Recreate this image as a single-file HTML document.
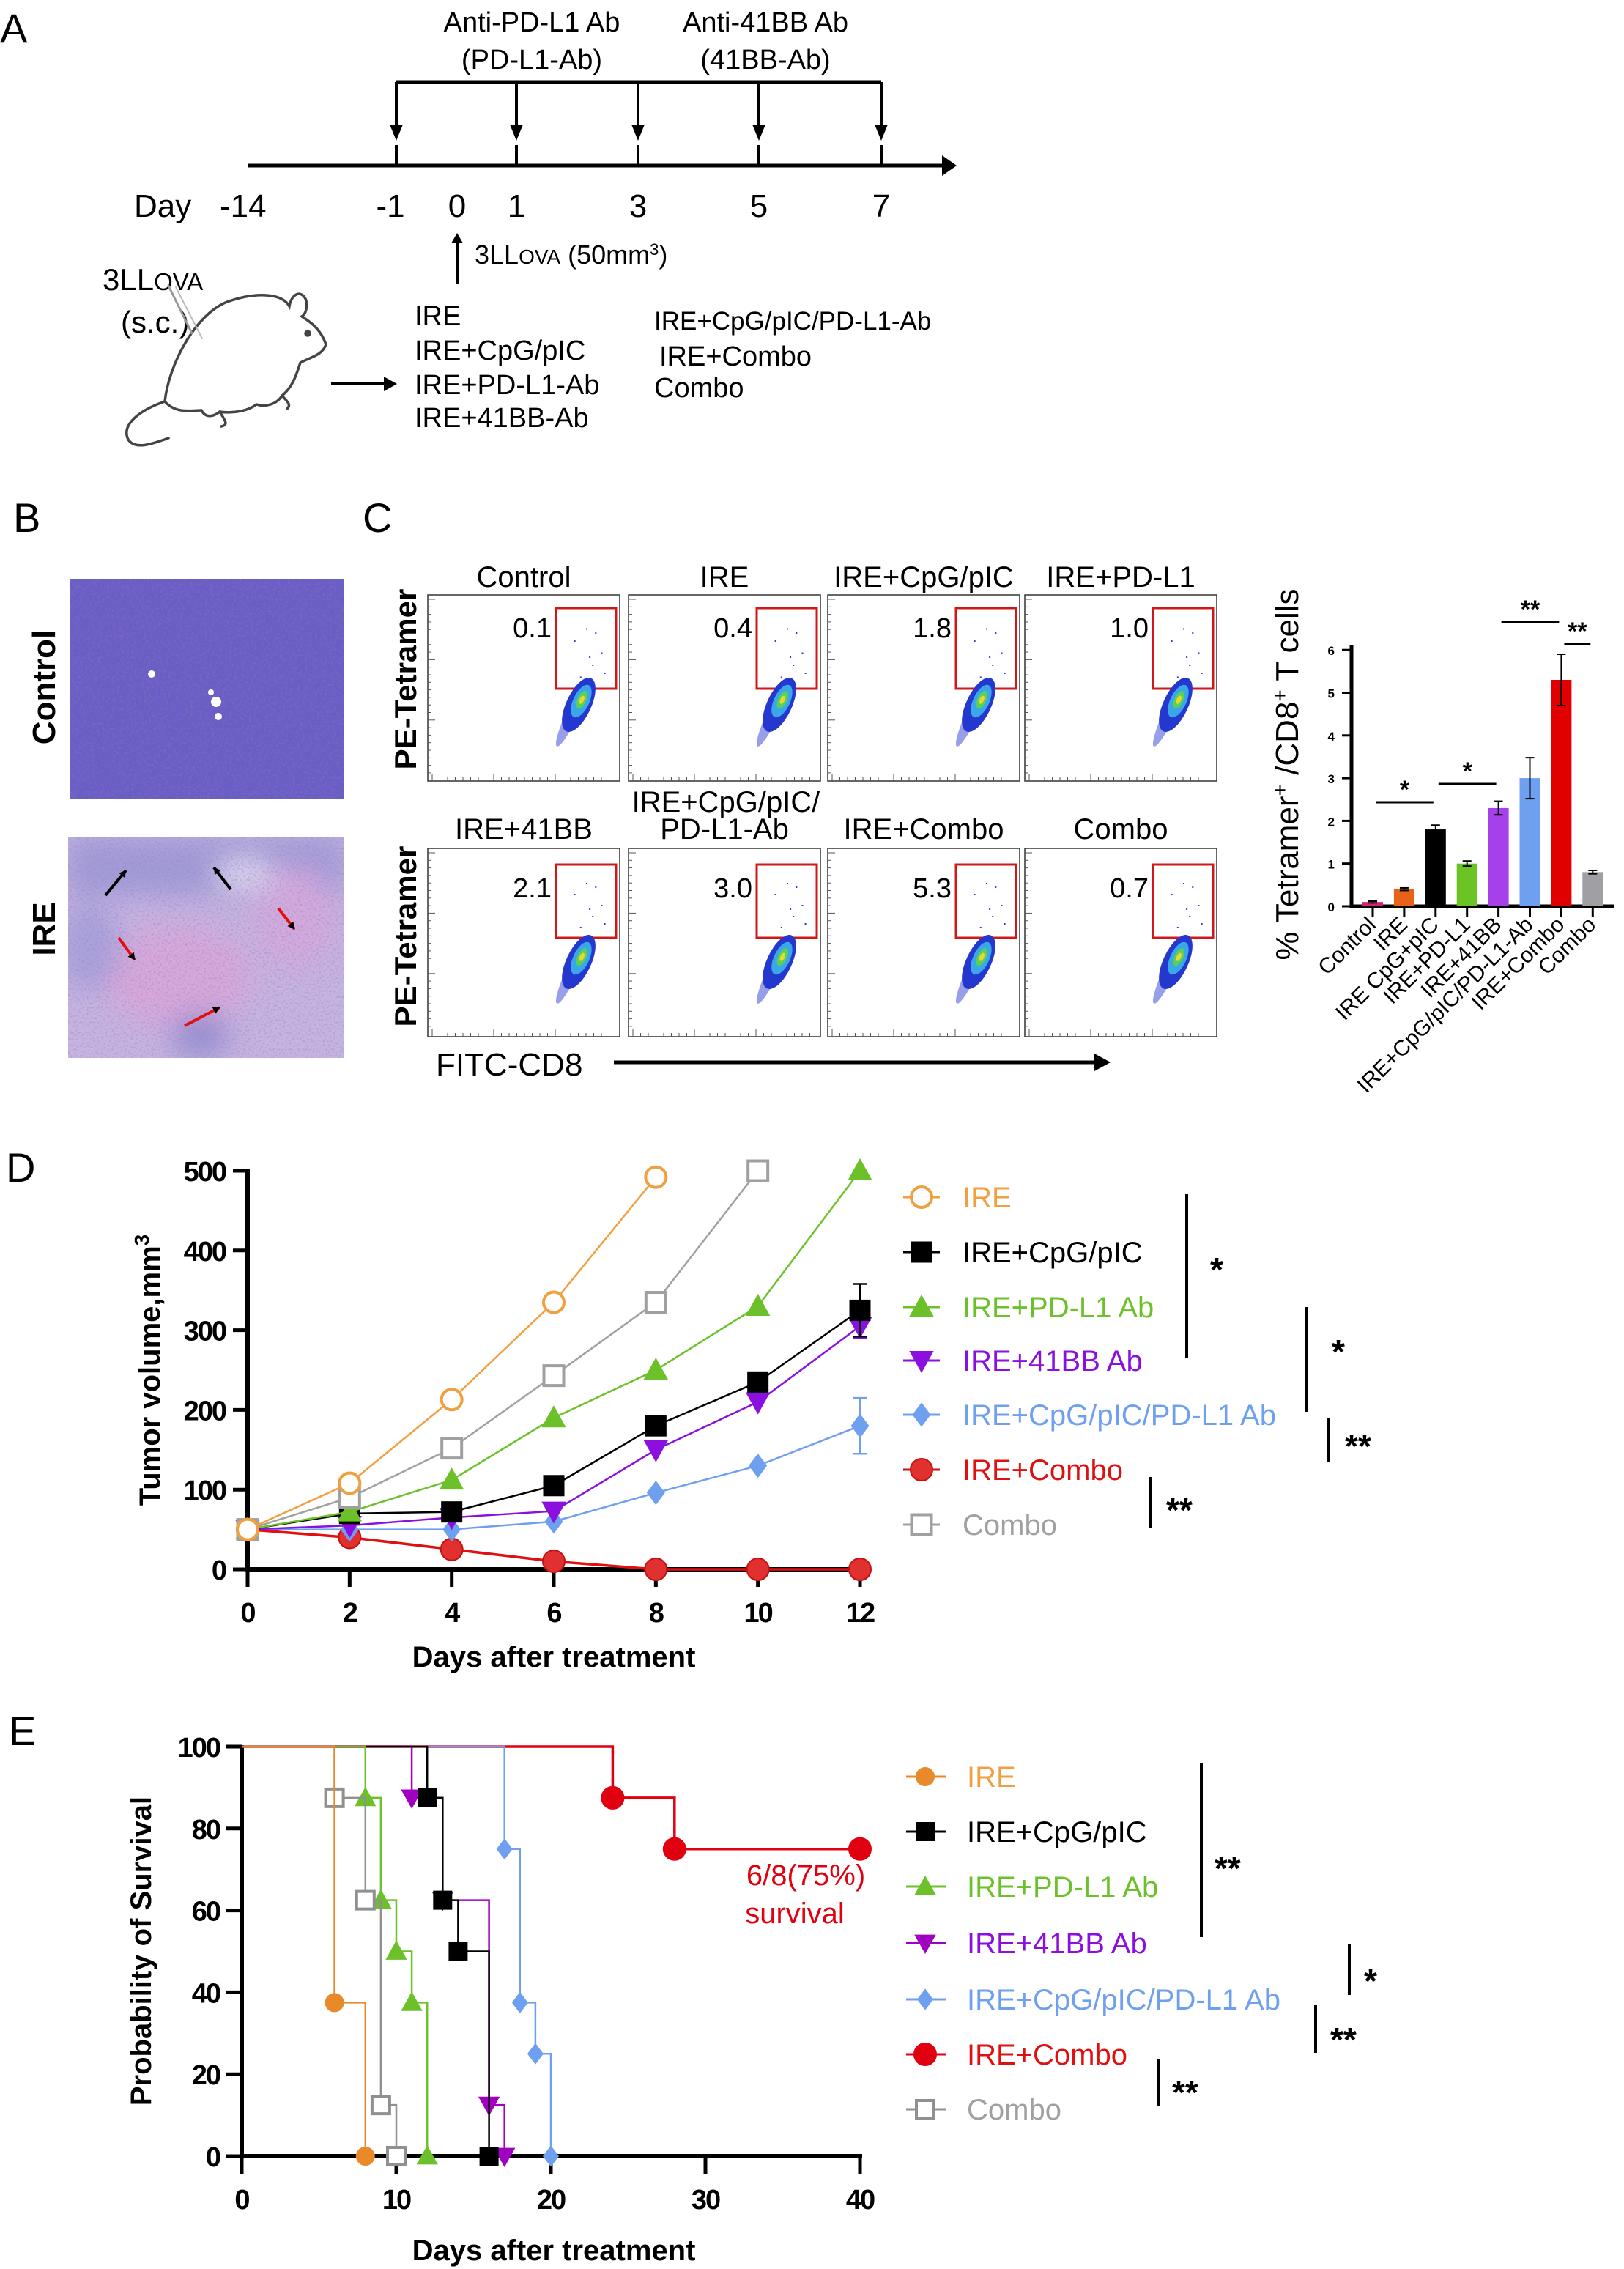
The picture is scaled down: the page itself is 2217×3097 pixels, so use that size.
<!DOCTYPE html>
<html><head><meta charset="utf-8"><title>Figure</title>
<style>
html,body{margin:0;padding:0;background:#fff;}
svg{display:block;font-family:"Liberation Sans",Arial,sans-serif;}
</style></head>
<body>
<svg id="fig" xmlns="http://www.w3.org/2000/svg" width="2217" height="3097" viewBox="0 0 2217 3097">
<defs>
  <filter id="noiseC" x="0" y="0" width="100%" height="100%">
    <feTurbulence type="fractalNoise" baseFrequency="0.3" numOctaves="2" seed="3"/>
    <feColorMatrix type="matrix" values="0 0 0 0 0.2  0 0 0 0 0.15  0 0 0 0 0.5  -3 0 0 0 1.6"/>
  </filter>
  <filter id="noiseI" x="0" y="0" width="100%" height="100%">
    <feTurbulence type="fractalNoise" baseFrequency="0.35" numOctaves="2" seed="7"/>
    <feColorMatrix type="matrix" values="0 0 0 0 0.3  0 0 0 0 0.25  0 0 0 0 0.6  -3 0 0 0 1.6"/>
  </filter>
  <filter id="blur12"><feGaussianBlur stdDeviation="18"/></filter>
  <marker id="ah" markerWidth="10" markerHeight="10" refX="9" refY="5" orient="auto" markerUnits="userSpaceOnUse"><path d="M0,0 L10,5 L0,10 z" fill="#000"/></marker>
</defs>

<!-- ===== Panel A ===== -->
<g>
  <text x="0" y="58" font-size="56">A</text>
  <text x="726" y="43" font-size="38" text-anchor="middle">Anti-PD-L1 Ab</text>
  <text x="726" y="94" font-size="38" text-anchor="middle">(PD-L1-Ab)</text>
  <text x="1045" y="43" font-size="38" text-anchor="middle">Anti-41BB Ab</text>
  <text x="1045" y="94" font-size="38" text-anchor="middle">(41BB-Ab)</text>
  <line x1="541" y1="112" x2="1203" y2="112" stroke="#000" stroke-width="5"/>
  <g id="dosing-arrows"></g>
  <line x1="338" y1="226" x2="1290" y2="226" stroke="#000" stroke-width="5"/>
  <path d="M1286,212 L1306,226 L1286,240 z" fill="#000"/>
  <g font-size="44">
    <text x="183" y="296">Day</text>
    <text x="300" y="296">-14</text>
    <text x="533" y="296" text-anchor="middle">-1</text>
    <text x="624" y="296" text-anchor="middle">0</text>
    <text x="705" y="296" text-anchor="middle">1</text>
    <text x="871" y="296" text-anchor="middle">3</text>
    <text x="1036" y="296" text-anchor="middle">5</text>
    <text x="1203" y="296" text-anchor="middle">7</text>
  </g>
  <line x1="624" y1="388" x2="624" y2="330" stroke="#000" stroke-width="4"/>
  <path d="M616,332 L624,318 L632,332 z" fill="#000"/>
  <text x="648" y="360" font-size="36">3LL<tspan font-size="28">OVA</tspan> (50mm<tspan font-size="22" baseline-shift="super">3</tspan>)</text>
  <text x="140" y="396" font-size="42">3LL<tspan font-size="33">OVA</tspan></text>
  <text x="165" y="454" font-size="42">(s.c.)</text>
  <g fill="none" stroke="#444" stroke-width="3.5" stroke-linecap="round">
    <path d="M225,548 C230,500 265,430 310,412 C350,398 385,400 395,418 C398,400 412,395 418,410 C420,425 415,430 412,432 C425,440 438,450 445,470 C440,485 425,487 410,495 C405,510 400,528 385,540 C378,552 362,556 350,552 C340,560 320,565 300,562 C290,570 280,570 275,560 C260,560 240,565 225,548 Z"/>
    <path d="M225,548 C190,560 165,580 175,600 C185,615 210,605 230,598"/>
    <path d="M385,540 C392,548 398,552 392,558"/>
    <path d="M300,562 C308,575 312,580 302,582"/>
    <circle cx="420" cy="455" r="3" fill="#444"/>
    <path d="M230,390 L262,455" stroke="#999" stroke-width="3"/>
    <path d="M240,392 L276,462" stroke="#bbb" stroke-width="2"/>
  </g>
  <line x1="452" y1="524" x2="528" y2="524" stroke="#000" stroke-width="4"/>
  <path d="M524,514 L542,524 L524,534 z" fill="#000"/>
  <g font-size="38">
    <text x="566" y="444">IRE</text>
    <text x="566" y="491">IRE+CpG/pIC</text>
    <text x="566" y="538">IRE+PD-L1-Ab</text>
    <text x="566" y="583">IRE+41BB-Ab</text>
    <text x="893" y="450" font-size="35">IRE+CpG/pIC/PD-L1-Ab</text>
    <text x="900" y="499" font-size="38">IRE+Combo</text>
    <text x="893" y="542" font-size="38">Combo</text>
  </g>
</g>

<!-- ===== Panel B ===== -->
<g>
  <text x="18" y="726" font-size="56">B</text>
  <rect x="96" y="790" width="374" height="301" fill="#6a5ec6"/>
  <rect x="96" y="790" width="374" height="301" filter="url(#noiseC)" opacity="0.7"/>
  <g fill="#fff"><circle cx="207" cy="920" r="5"/><circle cx="295" cy="958" r="7"/><circle cx="298" cy="978" r="5"/><circle cx="288" cy="945" r="4"/></g>
  <svg x="93" y="1143" width="377" height="301" overflow="hidden">
    <rect x="0" y="0" width="377" height="301" fill="#c7b4e0"/>
    <g filter="url(#blur12)" opacity="0.85">
      <rect x="0" y="0" width="377" height="80" fill="#9b96d4"/>
      <ellipse cx="150" cy="190" rx="100" ry="70" fill="#dca6d8"/>
      <ellipse cx="310" cy="110" rx="55" ry="70" fill="#d7a8dc"/>
      <ellipse cx="240" cy="50" rx="40" ry="20" fill="#e8e2f4"/>
      <ellipse cx="180" cy="270" rx="40" ry="30" fill="#8e8acc"/>
      <ellipse cx="30" cy="150" rx="40" ry="60" fill="#a49ed8"/>
    </g>
    <rect x="0" y="0" width="377" height="301" filter="url(#noiseI)" opacity="0.5"/>
  </svg>
  <g stroke-width="4">
    <line x1="144" y1="1222" x2="172" y2="1188" stroke="#000" marker-end="url(#ah)"/>
    <line x1="315" y1="1214" x2="292" y2="1184" stroke="#000" marker-end="url(#ah)"/>
    <line x1="162" y1="1280" x2="184" y2="1310" stroke="#e01010" marker-end="url(#ah)"/>
    <line x1="380" y1="1240" x2="402" y2="1268" stroke="#e01010" marker-end="url(#ah)"/>
    <line x1="252" y1="1400" x2="300" y2="1375" stroke="#e01010" marker-end="url(#ah)"/>
  </g>
  <text transform="translate(75,938) rotate(-90)" font-size="44" font-weight="bold" text-anchor="middle">Control</text>
  <text transform="translate(75,1268) rotate(-90)" font-size="44" font-weight="bold" text-anchor="middle">IRE</text>
</g>

<!-- ===== Panel C (flow) ===== -->
<g id="flow">
  <text x="495" y="726" font-size="56">C</text>
  <text transform="translate(568,927) rotate(-90)" font-size="42" font-weight="bold" text-anchor="middle">PE-Tetramer</text>
  <text transform="translate(568,1278) rotate(-90)" font-size="42" font-weight="bold" text-anchor="middle">PE-Tetramer</text>
  <text x="595" y="1468" font-size="44">FITC-CD8</text>
  <line x1="838" y1="1450" x2="1500" y2="1450" stroke="#000" stroke-width="5"/>
  <path d="M1494,1438 L1516,1450 L1494,1462 z" fill="#000"/>
</g>

<g id="bar"></g>
<g id="panelD">
  <text x="8" y="1613" font-size="56">D</text>
</g>
<g id="panelE">
  <text x="12" y="2382" font-size="56">E</text>
</g>
</svg>

<script>
const NS = "http://www.w3.org/2000/svg";
function mk(tag, attrs, parent) {
  const e = document.createElementNS(NS, tag);
  for (const k in attrs) e.setAttribute(k, attrs[k]);
  parent.appendChild(e);
  return e;
}

const doseX = [541, 705, 871, 1036, 1203];
const dA = document.getElementById('dosing-arrows');
doseX.forEach(x => {
  const l = mk('line', {x1:x, y1:112, x2:x, y2:175, stroke:'#000', 'stroke-width':4}, dA);
  
  
  mk('path', {d:`M${x-9},170 L${x},192 L${x+9},170 z`, fill:'#000'}, dA);
  mk('line', {x1:x, y1:198, x2:x, y2:226, stroke:'#000', 'stroke-width':4}, dA);
});

const flowTitles = ['Control','IRE','IRE+CpG/pIC','IRE+PD-L1','IRE+41BB','PD-L1-Ab','IRE+Combo','Combo'];
const flowValues = ['0.1','0.4','1.8','1.0','2.1','3.0','5.3','0.7'];
const flow = document.getElementById('flow');
const colX = [584, 858, 1130, 1399];
const rowY = [812, 1158];
for (let i = 0; i < 8; i++) {
  const r = Math.floor(i/4), c = i%4;
  const x = colX[c], y = rowY[r], w = 262, h = r===0 ? 254 : 257;
  const g = mk('g', {}, flow);
  
  
  mk('rect', {x:x, y:y, width:w, height:h, fill:'#fff', stroke:'#333', 'stroke-width':1.5}, g);
  for (let t = 0; t < 24; t++) {
    const tx = x + 6 + t*10.5;
    mk('line', {x1:tx, y1:y+h, x2:tx, y2:y+h-(t%8===0?10:5), stroke:'#555', 'stroke-width':1}, g);
    const ty = y + 6 + t*10.3;
    mk('line', {x1:x, y1:ty, x2:x+(t%8===0?10:5), y2:ty, stroke:'#555', 'stroke-width':1}, g);
  }
  const gx = x + 175, gy = y + (r===0?18:22), gw = 82, gh = r===0?110:100;
  const gate = mk('rect', {x:gx, y:gy, width:gw, height:gh, fill:'none', stroke:'#d01818', 'stroke-width':3}, g);
  
  
  const cx = x + 206, cy = y + (r===0?150:155);
  const cg = mk('g', {transform:`translate(${cx},${cy}) rotate(25)`}, g);
  mk('ellipse', {cx:-3, cy:16, rx:8, ry:48, fill:'#3040d8', opacity:0.5}, cg);
  mk('ellipse', {cx:0, cy:0, rx:17, ry:40, fill:'#2438d0'}, cg);
  mk('ellipse', {cx:1, cy:-6, rx:11, ry:24, fill:'#3aa8e8'}, cg);
  mk('ellipse', {cx:1, cy:-8, rx:6, ry:13, fill:'#5ad05a'}, cg);
  mk('ellipse', {cx:1, cy:-8, rx:3, ry:6, fill:'#e8d830'}, cg);
  const dots = [[0.3,0.4],[0.6,0.7],[0.5,0.25],[0.75,0.55],[0.4,0.85],[0.65,0.3],[0.8,0.8],[0.55,0.6]];
  dots.forEach(d => mk('rect', {x:gx+d[0]*gw, y:gy+d[1]*gh, width:2, height:2, fill:'#2a3ad8'}, g));
  const v = mk('text', {x:gx-6, y:gy+(r===0?40:45), 'font-size':38, 'text-anchor':'end'}, g);
  v.textContent = flowValues[i];
  
  
  const tt = mk('text', {x:x+w/2, y:r===0?801:1145, 'font-size':40, 'text-anchor':'middle'}, flow);
  tt.textContent = flowTitles[i];
  
  
}
const extraT = mk('text', {x:991, y:1108, 'font-size':40, 'text-anchor':'middle'}, flow);
extraT.textContent = 'IRE+CpG/pIC/';



/* ---------- Bar chart ---------- */
const barCategories = ['Control','IRE','IRE CpG+pIC','IRE+PD-L1','IRE+41BB','IRE+CpG/pIC/PD-L1-Ab','IRE+Combo','Combo'];
const barValues = [0.1, 0.4, 1.8, 1.0, 2.3, 3.0, 5.3, 0.8];
const barErrors = [0.02, 0.03, 0.1, 0.06, 0.16, 0.48, 0.6, 0.04];
const barColors = ['#d8207a','#e8621a','#000000','#6cc424','#a640e8','#6fa0f0','#e00000','#a0a0a4'];
const barTicks = [0,1,2,3,4,5,6];
const bar = document.getElementById('bar');
const bY = v => 1237 - v*58.3;
const bX = i => 1874 + i*42.9;
mk('line', {x1:1845, y1:880, x2:1845, y2:1240, stroke:'#000', 'stroke-width':5}, bar);
mk('line', {x1:1843, y1:1237, x2:2204, y2:1237, stroke:'#000', 'stroke-width':5}, bar);
barTicks.forEach(t => {
  mk('line', {x1:1832, y1:bY(t), x2:1845, y2:bY(t), stroke:'#000', 'stroke-width':3}, bar);
  const l = mk('text', {x:1822, y:bY(t)+7, 'font-size':17, 'font-weight':'bold', 'text-anchor':'end'}, bar);
  l.textContent = t;
  
  
});
barValues.forEach((v, i) => {
  const cx = bX(i);
  const r = mk('rect', {x:cx-14, y:bY(v), width:28, height:1237-bY(v), fill:barColors[i]}, bar);
  
  
  const e = barErrors[i];
  mk('line', {x1:cx, y1:bY(v+e), x2:cx, y2:bY(v-e), stroke:'#000', 'stroke-width':2}, bar);
  mk('line', {x1:cx-6, y1:bY(v+e), x2:cx+6, y2:bY(v+e), stroke:'#000', 'stroke-width':2}, bar);
  mk('line', {x1:cx-6, y1:bY(v-e), x2:cx+6, y2:bY(v-e), stroke:'#000', 'stroke-width':2}, bar);
  mk('line', {x1:cx, y1:1237, x2:cx, y2:1252, stroke:'#000', 'stroke-width':3}, bar);
  const lab = mk('text', {transform:`translate(${cx+6},1264) rotate(-45)`, 'font-size':30, 'text-anchor':'end'}, bar);
  lab.textContent = barCategories[i];
  
  
});
const yt = mk('text', {transform:'translate(1772,1057) rotate(-90)', 'font-size':44, 'text-anchor':'middle'}, bar);


yt.innerHTML = '% Tetramer<tspan font-size="28" baseline-shift="super">+</tspan> /CD8<tspan font-size="28" baseline-shift="super">+</tspan> T cells';
const barSig = [[0,2,1095,'*'],[2,4,1070,'*'],[4,6,849,'**'],[6,7,879,'**']];
barSig.forEach(s => {
  const x1 = bX(s[0]) + 4, x2 = bX(s[1]) - 3;
  mk('line', {x1:x1, y1:s[2], x2:x2, y2:s[2], stroke:'#000', 'stroke-width':3}, bar);
  const t = mk('text', {x:(x1+x2)/2, y:s[2]-6, 'font-size':34, 'font-weight':'bold', 'text-anchor':'middle'}, bar);
  t.textContent = s[3];
  
  
});

function marker(parent, shape, cx, cy, s, color, fill) {
  let e;
  const h = s/2;
  if (shape === 'circle') e = mk('circle', {cx:cx, cy:cy, r:h}, parent);
  else if (shape === 'square') e = mk('rect', {x:cx-h, y:cy-h, width:s, height:s}, parent);
  else if (shape === 'tri') e = mk('path', {d:`M${cx},${cy-h} L${cx+h},${cy+h*0.8} L${cx-h},${cy+h*0.8} z`}, parent);
  else if (shape === 'tridown') e = mk('path', {d:`M${cx},${cy+h} L${cx+h},${cy-h*0.8} L${cx-h},${cy-h*0.8} z`}, parent);
  else e = mk('path', {d:`M${cx},${cy-h} L${cx+h*0.75},${cy} L${cx},${cy+h} L${cx-h*0.75},${cy} z`}, parent);
  e.setAttribute('fill', fill);
  e.setAttribute('stroke', color);
  e.setAttribute('stroke-width', fill === '#fff' ? 4 : 2);
  return e;
}

/* ---------- Panel D ---------- */
const dDays = [0, 2, 4, 6, 8, 10, 12];
const dNames = ['IRE','IRE+CpG/pIC','IRE+PD-L1 Ab','IRE+41BB Ab','IRE+CpG/pIC/PD-L1 Ab','IRE+Combo','Combo'];
const dIRE    = [50, 108, 213, 335, 492];
const dCpG    = [50, 70, 72, 105, 180, 235, 325];
const dPDL1   = [50, 72, 112, 190, 250, 330, 500];
const d41BB   = [50, 55, 65, 73, 150, 210, 305];
const dTriple = [50, 50, 50, 60, 96, 130, 180];
const dCombo2 = [50, 40, 25, 10, 0, 0, 0];
const dCombo  = [50, 90, 152, 243, 335, 500];
const dErrEnd = [0, 33, 0, 15, 35, 0, 0];
const dTicksY = [0, 100, 200, 300, 400, 500];
const dSeries = [dIRE, dCpG, dPDL1, d41BB, dTriple, dCombo2, dCombo];
const dStyle = [
  ['circle','#f0a040','#fff',28],['square','#000','#000',27],['tri','#6cc12a','#6cc12a',30],
  ['tridown','#8b10e0','#8b10e0',30],['diamond','#6fa0f0','#6fa0f0',30],['circle','#c81010','#e03030',30],['square','#a0a0a0','#fff',27]];
const D = document.getElementById('panelD');
const dx = d => 338 + d*(1174-338)/12;
const dy = v => 2142 - v*(2142-1598)/500;
mk('line', {x1:338, y1:1596, x2:338, y2:2145, stroke:'#000', 'stroke-width':6}, D);
mk('line', {x1:335, y1:2142, x2:1177, y2:2142, stroke:'#000', 'stroke-width':6}, D);
dTicksY.forEach(t => {
  mk('line', {x1:318, y1:dy(t), x2:338, y2:dy(t), stroke:'#000', 'stroke-width':5}, D);
  const l = mk('text', {x:308, y:dy(t)+14, 'font-size':38, 'font-weight':'bold', 'text-anchor':'end', 'letter-spacing':'-2'}, D);
  l.textContent = t;
  
  
});
dDays.forEach(t => {
  mk('line', {x1:dx(t), y1:2142, x2:dx(t), y2:2166, stroke:'#000', 'stroke-width':5}, D);
  const l = mk('text', {x:dx(t), y:2214, 'font-size':38, 'font-weight':'bold', 'text-anchor':'middle', 'letter-spacing':'-2'}, D);
  l.textContent = t;
  
  
});
const dxt = mk('text', {x:756, y:2275, 'font-size':40, 'font-weight':'bold', 'text-anchor':'middle'}, D);
dxt.textContent = 'Days after treatment';


const dyt = mk('text', {transform:'translate(218,1870) rotate(-90)', 'font-size':40, 'font-weight':'bold', 'text-anchor':'middle'}, D);


dyt.innerHTML = 'Tumor volume,mm<tspan font-size="28" baseline-shift="super">3</tspan>';
const drawOrder = [5, 4, 3, 1, 2, 6, 0];
drawOrder.forEach(si => {
  const vals = dSeries[si], st = dStyle[si];
  const g = mk('g', {}, D);
  
  
  const pts = vals.map((v, i) => dx(dDays[i]) + ',' + dy(v)).join(' ');
  mk('polyline', {points:pts, fill:'none', stroke:st[1]==='#c81010'?'#e01010':st[1], 'stroke-width':si===5?3.5:2.5}, g);
  const e = dErrEnd[si];
  if (e > 0) {
    const li = vals.length - 1, x = dx(dDays[li]);
    mk('line', {x1:x, y1:dy(vals[li]+e), x2:x, y2:dy(vals[li]-e), stroke:st[1], 'stroke-width':2.5}, g);
    mk('line', {x1:x-9, y1:dy(vals[li]+e), x2:x+9, y2:dy(vals[li]+e), stroke:st[1], 'stroke-width':2.5}, g);
    mk('line', {x1:x-9, y1:dy(vals[li]-e), x2:x+9, y2:dy(vals[li]-e), stroke:st[1], 'stroke-width':2.5}, g);
  }
  vals.forEach((v, i) => {
    const m = marker(g, st[0], dx(dDays[i]), dy(v), st[3], st[1], st[2]);
    
    
  });
});
const dLegY = [1634, 1709, 1784, 1857, 1931, 2006, 2081];
const textColors = ['#f0a040','#000','#6cc12a','#8b10e0','#6fa0f0','#e01010','#a0a0a0'];
dNames.forEach((n, i) => {
  const g = mk('g', {}, D);
  
  
  const st = dStyle[i];
  mk('line', {x1:1233, y1:dLegY[i], x2:1283, y2:dLegY[i], stroke:st[1], 'stroke-width':3}, g);
  marker(g, st[0], 1258, dLegY[i], st[3], st[1], st[2]);
  const t = mk('text', {x:1314, y:dLegY[i]+14, 'font-size':40, fill:textColors[i]}, g);
  t.textContent = n;
});
const dSig = [[1620,1630,1854,1652,1749,'*'],[1784,1784,1927,1818,1861,'*'],[1814,1936,1996,1836,1990,'**'],[1570,2016,2085,1592,2077,'**']];
dSig.forEach(s => {
  mk('line', {x1:s[0], y1:s[1], x2:s[0], y2:s[2], stroke:'#000', 'stroke-width':4}, D);
  const t = mk('text', {x:s[3], y:s[4], 'font-size':46, 'font-weight':'bold'}, D);
  t.textContent = s[5];
  
  
});

/* ---------- Panel E ---------- */
const eNames = dNames;
const eIRE_t = [6, 8],            eIRE_v = [37.5, 0];
const eCpG_t = [12, 13, 14, 16],  eCpG_v = [87.5, 62.5, 50, 0];
const ePD_t = [8, 9, 10, 11, 12], ePD_v = [87.5, 62.5, 50, 37.5, 0];
const e41_t = [11, 13, 16, 17],   e41_v = [87.5, 62.5, 12.5, 0];
const eTr_t = [17, 18, 19, 20],   eTr_v = [75, 37.5, 25, 0];
const eCo_t = [24, 28, 40],       eCo_v = [87.5, 75, 75];
const eCb_t = [6, 8, 9, 10],      eCb_v = [87.5, 62.5, 12.5, 0];
const eTimes = [eIRE_t, eCpG_t, ePD_t, e41_t, eTr_t, eCo_t, eCb_t];
const eVals = [eIRE_v, eCpG_v, ePD_v, e41_v, eTr_v, eCo_v, eCb_v];
const eTicksX = [0, 10, 20, 30, 40];
const eTicksY = [0, 20, 40, 60, 80, 100];
const eStyle = [
  ['circle','#e88a2a','#e88a2a',24],['square','#000','#000',24],['tri','#6cc12a','#6cc12a',26],
  ['tridown','#a000c0','#a000c0',26],['diamond','#6fa0f0','#6fa0f0',26],['circle','#e00010','#e00010',30],['square','#909090','#fff',24]];
const eLine = ['#e88a2a','#000','#6cc12a','#a000c0','#6fa0f0','#e00010','#909090'];
const E = document.getElementById('panelE');
const ex = d => 330 + d*(1174-330)/40;
const ey = v => 2943 - v*(2943-2384)/100;
mk('line', {x1:330, y1:2382, x2:330, y2:2946, stroke:'#000', 'stroke-width':6}, E);
mk('line', {x1:327, y1:2943, x2:1177, y2:2943, stroke:'#000', 'stroke-width':6}, E);
eTicksY.forEach(t => {
  mk('line', {x1:308, y1:ey(t), x2:330, y2:ey(t), stroke:'#000', 'stroke-width':5}, E);
  const l = mk('text', {x:300, y:ey(t)+14, 'font-size':38, 'font-weight':'bold', 'text-anchor':'end', 'letter-spacing':'-2'}, E);
  l.textContent = t;
  
  
});
eTicksX.forEach(t => {
  mk('line', {x1:ex(t), y1:2943, x2:ex(t), y2:2968, stroke:'#000', 'stroke-width':5}, E);
  const l = mk('text', {x:ex(t), y:3015, 'font-size':38, 'font-weight':'bold', 'text-anchor':'middle', 'letter-spacing':'-2'}, E);
  l.textContent = t;
  
  
});
const ext = mk('text', {x:756, y:3085, 'font-size':40, 'font-weight':'bold', 'text-anchor':'middle'}, E);
ext.textContent = 'Days after treatment';


const eyt = mk('text', {transform:'translate(206,2663) rotate(-90)', 'font-size':40, 'font-weight':'bold', 'text-anchor':'middle'}, E);
eyt.textContent = 'Probability of Survival';


[5, 4, 3, 1, 2, 6, 0].forEach(si => {
  const ts = eTimes[si], vs = eVals[si], st = eStyle[si];
  const g = mk('g', {}, E);
  
  
  let d = `M${ex(0)},${ey(100)}`, prev = 100;
  ts.forEach((t, i) => {
    d += ` H${ex(t)}`;
    if (vs[i] !== prev) d += ` V${ey(vs[i])}`;
    prev = vs[i];
  });
  mk('path', {d:d, fill:'none', stroke:eLine[si], 'stroke-width':si===5?3.5:2.5}, g);
  ts.forEach((t, i) => {
    const m = marker(g, st[0], ex(t), ey(vs[i]), st[3], st[1], st[2]);
    
    
  });
});
const s1 = mk('text', {x:1100, y:2573, 'font-size':40, fill:'#e00010', 'text-anchor':'middle'}, E);
s1.textContent = '6/8(75%)';


const s2 = mk('text', {x:1085, y:2625, 'font-size':40, fill:'#e00010', 'text-anchor':'middle'}, E);
s2.textContent = 'survival';


const eLegY = [2425, 2500, 2575, 2652, 2729, 2804, 2879];
eNames.forEach((n, i) => {
  const g = mk('g', {}, E);
  
  
  const st = eStyle[i];
  mk('line', {x1:1237, y1:eLegY[i], x2:1292, y2:eLegY[i], stroke:eLine[i], 'stroke-width':3}, g);
  marker(g, st[0], 1263, eLegY[i], st[3], st[1], st[2]);
  const t = mk('text', {x:1320, y:eLegY[i]+14, 'font-size':40, fill:textColors[i]}, g);
  t.textContent = n;
});
const eSig = [[1640,2407,2644,1658,2566,'**'],[1842,2654,2723,1862,2720,'*'],[1796,2737,2802,1816,2800,'**'],[1582,2810,2875,1600,2872,'**']];
eSig.forEach(s => {
  mk('line', {x1:s[0], y1:s[1], x2:s[0], y2:s[2], stroke:'#000', 'stroke-width':4}, E);
  const t = mk('text', {x:s[3], y:s[4], 'font-size':46, 'font-weight':'bold'}, E);
  t.textContent = s[5];
  
  
});
</script>
</body></html>
